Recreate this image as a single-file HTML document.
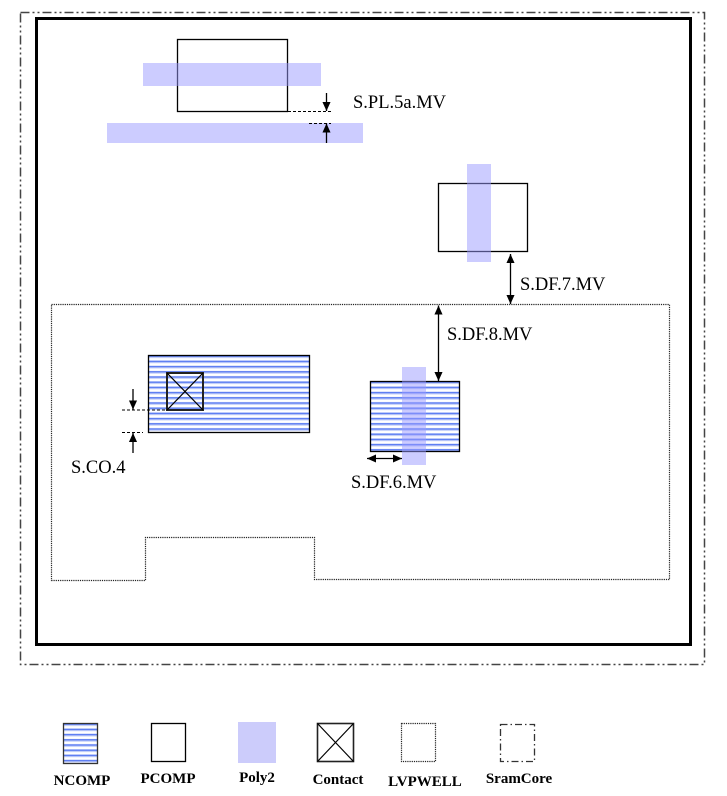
<!DOCTYPE html>
<html><head><meta charset="utf-8"><style>
html,body{margin:0;padding:0;background:#fff;}
svg{display:block;}
text{font-family:"Liberation Serif",serif;}
</style></head><body>
<svg width="727" height="796" viewBox="0 0 727 796" xmlns="http://www.w3.org/2000/svg">
<defs>
<pattern id="st" patternUnits="userSpaceOnUse" x="0" y="381" width="10" height="5.2">
<rect width="10" height="5.2" fill="#fff"/>
<rect y="0.4" width="10" height="1.6" fill="#5f7ff2"/>
<rect y="2" width="10" height="1" fill="#b8c6f8"/>
</pattern>
<pattern id="st1" patternUnits="userSpaceOnUse" x="0" y="355" width="10" height="5.2">
<rect width="10" height="5.2" fill="#fff"/>
<rect y="0.4" width="10" height="1.6" fill="#5f7ff2"/>
<rect y="2" width="10" height="1" fill="#b8c6f8"/>
</pattern>
<pattern id="st2" patternUnits="userSpaceOnUse" x="0" y="723" width="10" height="5.2">
<rect width="10" height="5.2" fill="#fff"/>
<rect y="0.4" width="10" height="1.6" fill="#5f7ff2"/>
<rect y="2" width="10" height="1" fill="#b8c6f8"/>
</pattern>
<marker id="ah" viewBox="0 0 10 10" refX="10" refY="5" markerWidth="9" markerHeight="9" markerUnits="userSpaceOnUse" orient="auto-start-reverse">
<path d="M0,0.5 L10,5 L0,9.5 z" fill="#000"/>
</marker>
</defs>

<!-- SramCore outer frame -->
<rect x="20.5" y="12.5" width="684" height="652" fill="none" stroke="#444" stroke-width="1.5" stroke-dasharray="9 3 2 3 2 3"/>
<!-- inner solid frame -->
<rect x="36.5" y="18.5" width="654" height="626" fill="none" stroke="#000" stroke-width="3"/>

<!-- LVPWELL -->
<path d="M51.5 304.5 H669.5 V579.5 H314.5 V537.5 H145.5 V580.5 H51.5 Z" fill="none" stroke="#222" stroke-width="1.2" stroke-dasharray="1.2 1"/>

<!-- top PCOMP + poly bars -->
<rect x="177.5" y="39.5" width="110" height="72" fill="none" stroke="#000" stroke-width="1.3"/>
<rect x="143" y="63" width="178" height="23" fill="#9999ff" fill-opacity="0.5"/>
<rect x="107" y="123" width="256" height="20" fill="#9999ff" fill-opacity="0.5"/>
<line x1="288" y1="111.5" x2="333" y2="111.5" stroke="#000" stroke-width="1" stroke-dasharray="3 2"/>
<line x1="309" y1="123.5" x2="331" y2="123.5" stroke="#000" stroke-width="1" stroke-dasharray="3 2"/>
<line x1="326.5" y1="93" x2="326.5" y2="111" stroke="#000" stroke-width="1.3" marker-end="url(#ah)"/>
<line x1="326.5" y1="143" x2="326.5" y2="123.5" stroke="#000" stroke-width="1.3" marker-end="url(#ah)"/>
<text x="353" y="108" font-size="18.5" font-family="Liberation Serif, serif">S.PL.5a.MV</text>

<!-- right PCOMP with poly -->
<rect x="438.5" y="183.5" width="89" height="68" fill="none" stroke="#000" stroke-width="1.3"/>
<rect x="467" y="164" width="24" height="98" fill="#9999ff" fill-opacity="0.5"/>
<line x1="510.5" y1="254" x2="510.5" y2="304" stroke="#000" stroke-width="1.3" marker-start="url(#ah)" marker-end="url(#ah)"/>
<text x="520" y="290" font-size="18.5" font-family="Liberation Serif, serif">S.DF.7.MV</text>
<line x1="438.5" y1="305.5" x2="438.5" y2="381" stroke="#000" stroke-width="1.3" marker-start="url(#ah)" marker-end="url(#ah)"/>
<text x="447" y="340" font-size="18.5" font-family="Liberation Serif, serif">S.DF.8.MV</text>

<!-- NCOMP 2 with poly -->
<rect x="370.5" y="381.5" width="89" height="70" fill="url(#st)" stroke="#000" stroke-width="1.3"/>
<rect x="402" y="367" width="24" height="98" fill="#9999ff" fill-opacity="0.5"/>
<line x1="367" y1="458.5" x2="402" y2="458.5" stroke="#000" stroke-width="1.3" marker-start="url(#ah)" marker-end="url(#ah)"/>
<text x="351" y="488" font-size="18.5" font-family="Liberation Serif, serif">S.DF.6.MV</text>

<!-- NCOMP 1 with contact -->
<rect x="148.5" y="355.5" width="161" height="77" fill="url(#st1)" stroke="#000" stroke-width="1.3"/>
<rect x="167" y="373" width="36" height="37" fill="none" stroke="#222" stroke-width="2"/>
<line x1="167" y1="373" x2="203" y2="410" stroke="#000" stroke-width="1.2"/>
<line x1="203" y1="373" x2="167" y2="410" stroke="#000" stroke-width="1.2"/>
<line x1="122" y1="410" x2="167" y2="410" stroke="#000" stroke-width="1" stroke-dasharray="3 2"/>
<line x1="122" y1="432.5" x2="143" y2="432.5" stroke="#000" stroke-width="1" stroke-dasharray="3 2"/>
<line x1="133" y1="389" x2="133" y2="409.5" stroke="#000" stroke-width="1.3" marker-end="url(#ah)"/>
<line x1="133" y1="453" x2="133" y2="433" stroke="#000" stroke-width="1.3" marker-end="url(#ah)"/>
<text x="71" y="473" font-size="18.5" font-family="Liberation Serif, serif">S.CO.4</text>

<!-- Legend -->
<rect x="63.5" y="723.5" width="34" height="40" fill="url(#st2)" stroke="#333" stroke-width="1.3"/>
<rect x="151.5" y="723.5" width="34" height="38" fill="none" stroke="#000" stroke-width="1.3"/>
<rect x="238" y="722" width="38" height="41" fill="#ccccfb"/>
<rect x="317.5" y="723.5" width="36" height="38" fill="none" stroke="#222" stroke-width="1.6"/>
<line x1="317.5" y1="723.5" x2="353.5" y2="761.5" stroke="#000" stroke-width="1.2"/>
<line x1="353.5" y1="723.5" x2="317.5" y2="761.5" stroke="#000" stroke-width="1.2"/>
<rect x="401.5" y="723.5" width="34" height="38" fill="none" stroke="#222" stroke-width="1.2" stroke-dasharray="1.2 1"/>
<rect x="500.5" y="724.5" width="34" height="37" fill="none" stroke="#333" stroke-width="1.3" stroke-dasharray="7 3 1.5 3"/>

<g font-size="15" font-weight="bold" text-anchor="middle" font-family="Liberation Serif, serif">
<text x="82" y="785">NCOMP</text>
<text x="168" y="783">PCOMP</text>
<text x="257" y="782">Poly2</text>
<text x="338" y="784">Contact</text>
<text x="425" y="786">LVPWELL</text>
<text x="519" y="783">SramCore</text>
</g>
</svg>
</body></html>
